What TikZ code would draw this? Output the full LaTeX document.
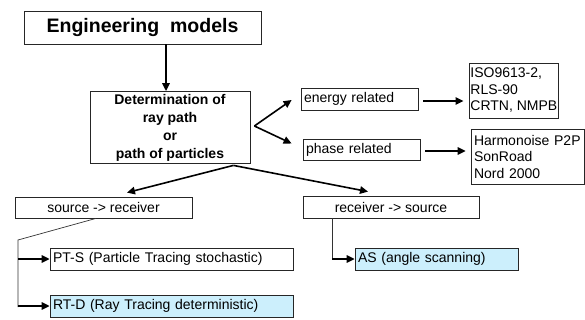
\documentclass[tikz,border=0pt]{standalone}
\usepackage{fontspec}
\setmainfont{Liberation Sans}
\usetikzlibrary{arrows.meta,calc}
\begin{document}
\begin{tikzpicture}[x=1pt,y=-1pt,
  box/.style={draw=black!85, line width=0.8pt, inner xsep=3pt, inner ysep=0pt,
    font=\fontsize{14}{16.5}\selectfont},
  lbox/.style={box, align=left},
  cyanbox/.style={fill=cyan!20},
  arr/.style={line width=1.6pt, -{Triangle[length=8pt,width=7.5pt]}},
  conn/.style={draw=black!80, line width=0.7pt},
]
\useasboundingbox (0,0) rectangle (585,320);

\node[box, minimum width=237pt, minimum height=33pt,
  font=\bfseries\fontsize{19.5}{22}\selectfont] (title) at (142.5,27.5) {Engineering\ \ models};
\node[box, minimum width=160pt, minimum height=72pt, align=center,
  font=\bfseries\fontsize{14}{18}\selectfont] (det) at (170,127.5)
  {Determination of\\ray path\\or\\path of particles};

\node[lbox, text width=111pt, minimum height=22pt] (energy) at (359.5,99) {energy related};
\node[lbox, text width=111pt, minimum height=21pt] (phase) at (361.5,149.5) {phase related};

\node[lbox, inner xsep=1.5pt, anchor=west, minimum width=89pt, minimum height=55pt] (iso) at (468.5,90.5)
  {ISO9613-2,\\RLS-90\\CRTN, NMPB};
\node[lbox, text width=107pt, minimum height=55pt] (harm) at (527.5,156.5)
  {Harmonoise P2P\\SonRoad\\Nord 2000};

\node[box, minimum width=177pt, minimum height=21pt] (sr) at (103.5,207.5) {source -> receiver};
\node[box, minimum width=176pt, minimum height=22pt] (rs) at (391,207) {receiver -> source};

\node[lbox, text width=237pt, minimum height=22pt] (pts) at (171.5,259) {PT-S (Particle Tracing stochastic)};
\node[lbox, cyanbox, text width=237pt, minimum height=22pt] (rtd) at (171.5,306) {RT-D (Ray Tracing deterministic)};
\node[lbox, cyanbox, text width=157pt, minimum height=22pt] (as) at (436.5,259) {AS (angle scanning)};

% arrows
\coordinate (tx) at (166,0);
\draw[arr] (title.south -| tx) -- (det.north -| tx);

\coordinate (v) at ($(det.east)+(4,-1.5)$);
\draw[arr] (v) -- ($(energy.west)+(-9,1)$);
\draw[arr] (v) -- ($(phase.west)+(-11,-6)$);

\draw[arr] ($(energy.east)+(5,2)$) -- ($(energy.east -| iso.west)+(-5,2)$);
\draw[arr] ($(phase.east)+(5,1.5)$) -- ($(phase.east -| harm.west)+(-5,1.5)$);

\coordinate (p) at ($(det.south east)+(-17,1.5)$);
\draw[arr] (p) -- ($(sr.north)+(23.5,-4)$);
\draw[arr] (p) -- ($(rs.north)+(-23,-4)$);

\coordinate (k1) at (18,240);
\draw[conn] ($(sr.south)+(-7.5,0)$) -- (k1) -- ($(k1 |- rtd.west)+(0,1)$);
\draw[arr] (k1 |- pts.west) -- (pts.west);
\draw[arr] (k1 |- rtd.west) -- (rtd.west);

\coordinate (k3) at (332,0);
\draw[conn] (rs.south -| k3) -- ($(k3 |- as.west)+(0,0.5)$);
\draw[arr] (k3 |- as.west) -- (as.west);
\end{tikzpicture}
\end{document}
